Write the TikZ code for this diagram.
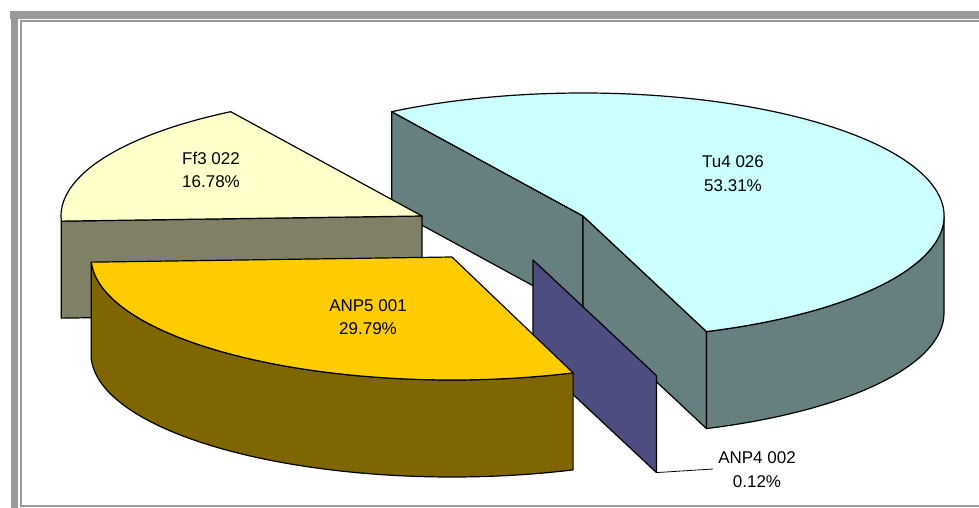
\documentclass[tikz,border=0pt]{standalone}
\usepackage{fontspec}
\setmainfont{Liberation Sans}
\usetikzlibrary{calc}

% slice colours: top faces and their darker side faces
\definecolor{tuTopC}{HTML}{CCFFFF}
\definecolor{tuSideC}{HTML}{668080}
\definecolor{ffTopC}{HTML}{FFFFCC}
\definecolor{ffSideC}{HTML}{808066}
\definecolor{anpFiveTopC}{HTML}{FFCC00}
\definecolor{anpFiveSideC}{HTML}{806600}
\definecolor{anpFourSideC}{HTML}{4D4D80}
\definecolor{frameC}{HTML}{999999}

\tikzset{
  face/.style={draw=black, line width=1.2pt, line join=round},
  lbl/.style={font=\fontsize{17}{20}\selectfont, anchor=base, inner sep=0pt},
  rx/.style={x radius=361pt, y radius=123pt}
}

\begin{document}
\begin{tikzpicture}[x=1pt, y=1pt]
\useasboundingbox (0,0) rectangle (979,-508);

% frame of the chart area
\fill[frameC] (10,-11) rectangle (979,-19);
\fill[frameC] (11,-11) rectangle (18,-508);
\draw[frameC, line width=2pt] (985,-21) -- (21,-21) -- (21,-506) -- (985,-506);

% slice centres (top face) and thickness 97
\coordinate (cT)  at (583,-216);
\coordinate (cF)  at (422,-216);
\coordinate (cA5) at (452,-257);
\coordinate (cA4) at (533,-260);

% ---- Tu4 026 ----
\filldraw[face, fill=tuSideC] (cT) -- ($(cT)+(122:361pt and 123pt)$) -- ++(0,-97)
  -- ($(cT)+(0,-97)$) -- cycle;
\filldraw[face, fill=tuSideC] (cT) -- ($(cT)+(-70:361pt and 123pt)$) -- ++(0,-97)
  -- ($(cT)+(0,-97)$) -- cycle;
\filldraw[face, fill=tuSideC] ($(cT)+(-70:361pt and 123pt)$)
  arc[start angle=-70, end angle=0, rx] -- ++(0,-97)
  arc[start angle=0, end angle=-70, rx] -- cycle;
\filldraw[face, fill=tuTopC] (cT) -- ($(cT)+(-70:361pt and 123pt)$)
  arc[start angle=-70, end angle=122, rx] -- cycle;

% ---- Ff3 022 ----
\filldraw[face, fill=ffSideC] (cF) -- ($(cF)+(182.4:361pt and 123pt)$) -- ++(0,-97)
  -- ($(cF)+(0,-97)$) -- cycle;
\filldraw[face, fill=ffTopC] (cF) -- ($(cF)+(122:361pt and 123pt)$)
  arc[start angle=122, end angle=182.4, rx] -- cycle;

% ---- ANP4 002 (thin slice, only its cut face shows) ----
\filldraw[face, fill=anpFourSideC] (cA4) -- ($(cA4)+(-70:361pt and 123pt)$) coordinate (a4rim)
  -- ++(0,-97) coordinate (a4foot) -- ($(cA4)+(0,-97)$) -- cycle;

% ---- ANP5 001 ----
\filldraw[face, fill=anpFiveSideC] ($(cA5)+(182.4:361pt and 123pt)$)
  arc[start angle=182.4, end angle=289.6, rx] -- ++(0,-97)
  arc[start angle=289.6, end angle=182.4, rx] -- cycle;
\filldraw[face, fill=anpFiveTopC] (cA5) -- ($(cA5)+(182.4:361pt and 123pt)$)
  arc[start angle=182.4, end angle=289.6, rx] -- cycle;

% ---- labels ----
\node[lbl] (tuName) at (733,-167) {Tu4 026};
\node[lbl] (tuPct)  at (733,-191) {53.31\%};
\node[lbl] (ffName) at (211,-164) {Ff3 022};
\node[lbl] (ffPct)  at (211,-187) {16.78\%};
\node[lbl] (a5Name) at (368,-311) {ANP5 001};
\node[lbl] (a5Pct)  at (368,-334) {29.79\%};
\node[lbl] (a4Name) at (757,-463) {ANP4 002};
\node[lbl] (a4Pct)  at (757,-487) {0.12\%};

% leader line for the thin slice
\coordinate (a4lead) at (713,-469);
\draw[black, line width=0.8pt] (a4foot) -- (a4lead);
\end{tikzpicture}
\end{document}
